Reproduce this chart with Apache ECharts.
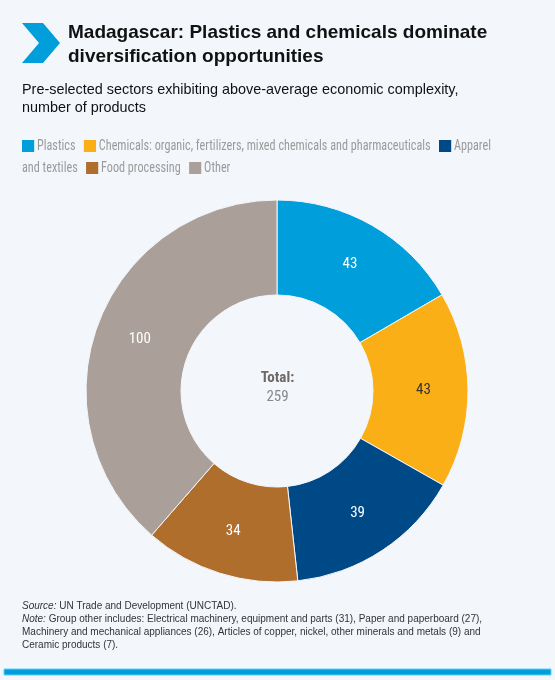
<!DOCTYPE html>
<html lang="en">
<head>
    <meta charset="UTF-8">
    <title>Madagascar diversification</title>
    <script src="https://cdn.jsdelivr.net/npm/echarts@6/dist/echarts.min.js"></script>
    <style>
        html, body { margin: 0; padding: 0; background: #f3f7fc; }
        #main { width: 555px; height: 680px; }
    </style>
</head>
<body>
<div id="main"></div>
<script>
    // data
    let sectors = ['Plastics', 'Chemicals: organic, fertilizers, mixed chemicals and pharmaceuticals', 'Apparel and textiles', 'Food processing', 'Other'];
    let products = [43, 43, 39, 34, 100];
    let colors = ['#009edb', '#fbaf17', '#004987', '#b06e2c', '#aba099'];
    let labelColors = ['#ffffff', '#333333', '#ffffff', '#ffffff', '#ffffff'];

    let total = products.reduce(function (a, b) { return a + b; }, 0);
    let narrow = '"Liberation Sans Narrow", "Roboto Condensed", "Liberation Sans", sans-serif';

    // legend as rich text so that "Apparel and textiles" wraps like the original
    // (squeezed horizontally, the original uses a condensed light face)
    let rich = { t: { fontFamily: narrow, fontSize: 14.5, fill: '#9a9a9a', lineHeight: 22 } };
    let legendText = '';
    sectors.forEach(function (s, i) {
        rich['b' + i] = { width: 14.5, height: 12, backgroundColor: colors[i] };
        let name = s === 'Apparel and textiles' ? 'Apparel}\n{t|and textiles' : s;
        legendText += '{b' + i + '|}{t| ' + name + '   }';
    });

    let myChart = echarts.init(document.getElementById('main'));
    let option = {
        backgroundColor: '#f3f7fc',
        graphic: [
            {
                type: 'polygon',
                shape: { points: [[22, 23], [43, 23], [60, 43], [43, 63], [22, 63], [39, 43]] },
                style: { fill: '#009edb' }
            },
            {
                type: 'text', left: 68, top: 21,
                style: {
                    text: 'Madagascar: Plastics and chemicals dominate\ndiversification opportunities',
                    font: 'bold 19px "Liberation Sans", Arial, sans-serif',
                    lineHeight: 24, fill: '#111'
                }
            },
            {
                type: 'text', left: 22, top: 81,
                style: {
                    text: 'Pre-selected sectors exhibiting above-average economic complexity,\nnumber of products',
                    font: '14.4px "Liberation Sans", Arial, sans-serif',
                    lineHeight: 18, fill: '#111'
                }
            },
            {
                type: 'text', x: 22, y: 135, scaleX: 0.84,
                style: { text: legendText, rich: rich }
            },
            {
                type: 'text', left: 22, top: 600,
                style: {
                    text: '{i|Source:} UN Trade and Development (UNCTAD).\n' +
                        '{i|Note:} Group other includes: Electrical machinery, equipment and parts (31), Paper and paperboard (27),\n' +
                        'Machinery and mechanical appliances (26), Articles of copper, nickel, other minerals and metals (9) and\n' +
                        'Ceramic products (7).',
                    font: '10px "Liberation Sans", Arial, sans-serif',
                    lineHeight: 13, fill: '#333',
                    rich: { i: { fontStyle: 'italic', fontSize: 10, fontFamily: '"Liberation Sans", Arial, sans-serif', fill: '#333' } }
                }
            },
            {
                type: 'rect',
                shape: { x: 4, y: 669, width: 547, height: 6 },
                style: { fill: '#009edb', stroke: '#5fd0f5', lineWidth: 1 }
            },
            {
                type: 'text', left: 'center', top: 371,
                style: {
                    text: '{a|Total:}\n{b|' + total + '}',
                    rich: {
                        a: { font: 'bold 15px ' + narrow, fill: '#6e6a68', lineHeight: 19, align: 'center' },
                        b: { font: '15px ' + narrow, fill: '#888', lineHeight: 19, align: 'center' }
                    },
                    align: 'center'
                }
            }
        ],
        series: [
            {
                type: 'pie',
                center: [277, 391],
                radius: [96, 191],
                startAngle: 90,
                clockwise: true,
                avoidLabelOverlap: false,
                itemStyle: { borderColor: '#f3f7fc', borderWidth: 1 },
                label: {
                    show: true,
                    position: 'inside',
                    formatter: '{c}',
                    fontFamily: narrow,
                    fontSize: 15
                },
                labelLine: { show: false },
                emphasis: { disabled: true },
                data: sectors.map(function (s, i) {
                    return {
                        name: s, value: products[i],
                        itemStyle: { color: colors[i] },
                        label: { color: labelColors[i] }
                    };
                })
            }
        ]
    };
    myChart.setOption(option);
</script>
</body>
</html>
